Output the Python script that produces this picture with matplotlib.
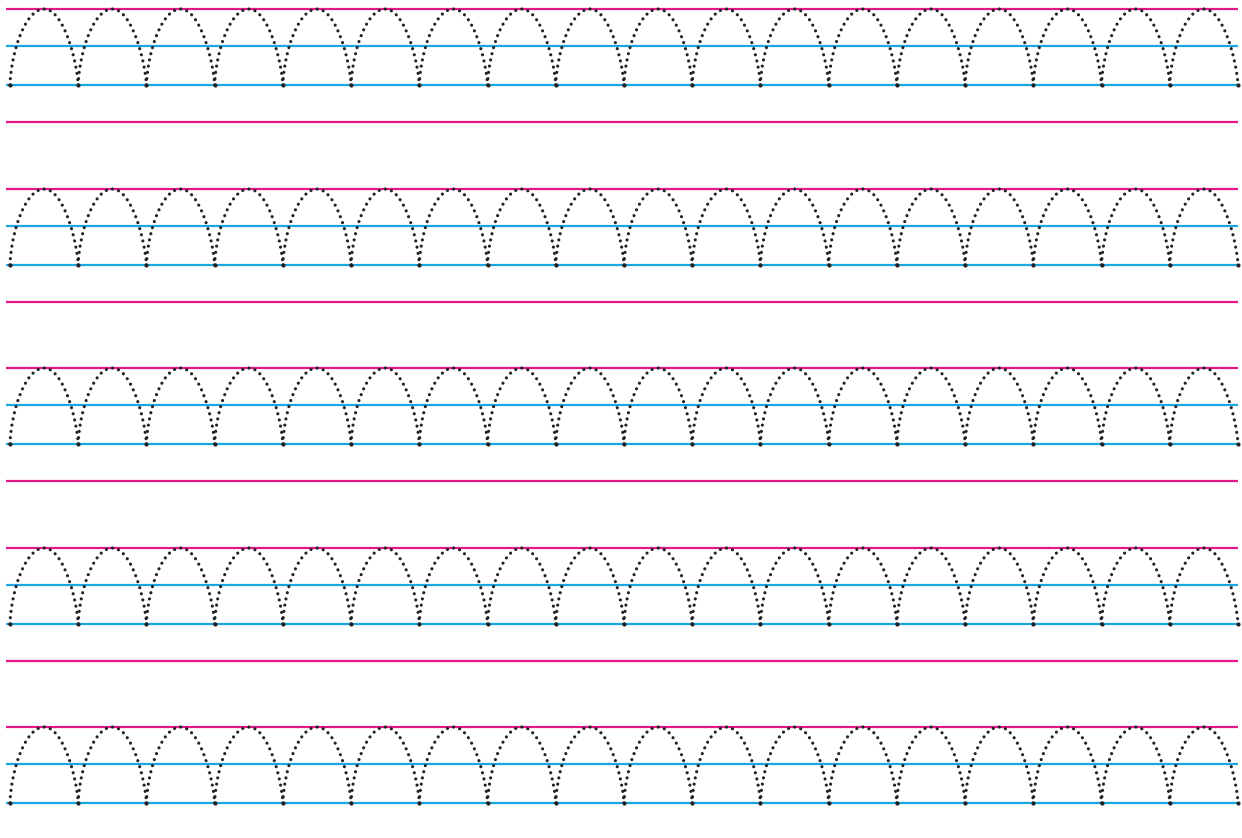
import numpy as np
import matplotlib.pyplot as plt

# guide lines of each practice row (pixel units, y down)
row_tops = [9, 189, 368, 548, 727]
top_offset = 0      # pink top line
mid_offset = 37     # blue mid line
base_offset = 76    # blue base line
bottom_offset = 113 # pink bottom line
n_arches = 18
x_left, x_right = 10, 1238
line_left, line_right = 6, 1238
# arch side shape exponents (left side rounder, right side steeper)
p_left, p_right = 1.6, 1.4

pink = '#E5168A'
blue = '#1AA6E0'

fig = plt.figure(figsize=(12.42, 8.38), dpi=100)
ax = fig.add_axes([0, 0, 1, 1])
ax.set_xlim(0, 1242)
ax.set_ylim(838, 0)
ax.axis('off')

w = (x_right - x_left) / n_arches
u = np.linspace(0, 1, 2000)
f_left = np.sqrt(1 - u ** p_left)
f_right = np.sqrt(1 - u ** p_right)

for top in row_tops:
    for off, col in [(top_offset, pink), (mid_offset, blue), (base_offset, blue), (bottom_offset, pink)]:
        ax.plot([line_left, line_right], [top + off, top + off], color=col, lw=1.6, solid_capstyle='butt')
    base = top + base_offset
    h = base_offset - top_offset
    for i in range(n_arches):
        cx = x_left + (i + 0.5) * w
        xs = np.concatenate([cx - (w / 2) * f_left, cx + (w / 2) * f_right[::-1]])
        ys = np.concatenate([base - h * u, base - h * u[::-1]])
        ax.plot(xs, ys, color='#222222', lw=2.3, linestyle=(0, (0.01, 1.97)), dash_capstyle='round')
    bx = x_left + np.arange(n_arches + 1) * w
    ax.scatter(bx, np.full_like(bx, base), s=9, color='#222222', zorder=3, linewidths=0)

fig.savefig('out.png', dpi=100)
